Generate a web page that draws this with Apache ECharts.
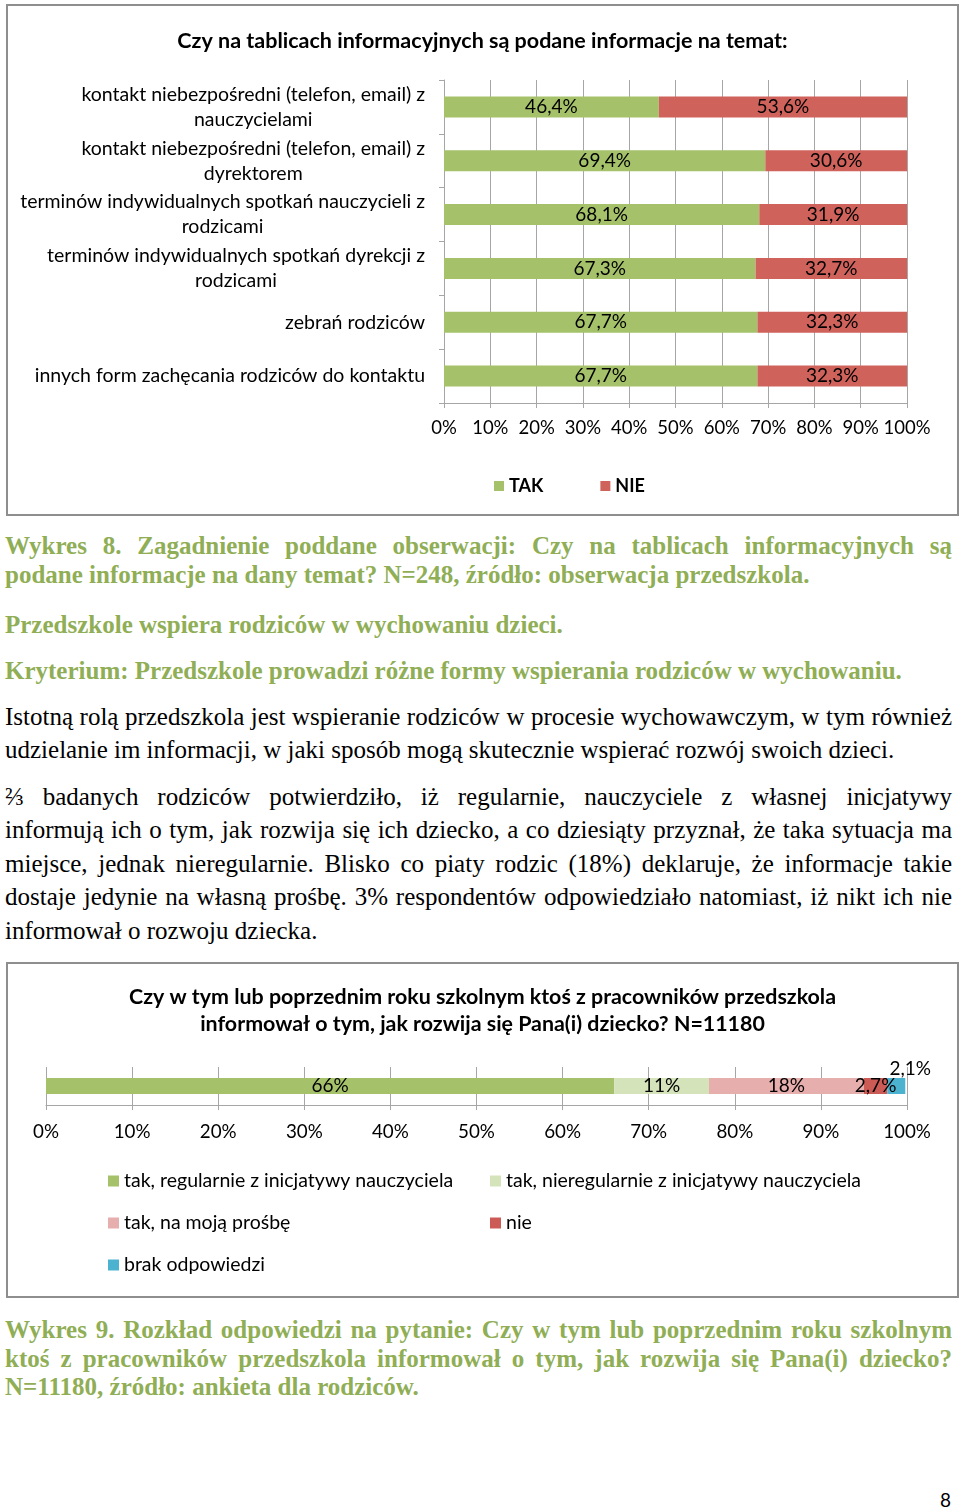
<!DOCTYPE html>
<html>
<head>
<meta charset="utf-8">
<script src="https://cdn.jsdelivr.net/npm/echarts@6/dist/echarts.min.js"></script>
<style>
  html, body { margin:0; padding:0; background:#fff; }
  body { width:960px; height:1510px; position:relative; overflow:hidden; }
  .box { position:absolute; border:2px solid #8e8e8e; background:#fff; }
  .ln { position:absolute; left:5px; width:947px; white-space:nowrap; font-family:"Liberation Serif","Times New Roman",serif; color:#000; }
  .j { text-align:justify; text-align-last:justify; white-space:normal; }
  .cap { font-weight:bold; color:#8fae55; }
  #pg { position:absolute; left:940px; top:1488px; font-family:Lato, sans-serif; font-size:19px; }
</style>
</head>
<body>
<div id="c1" class="box" style="left:6px; top:4px; width:949px; height:508px;"></div>
<div id="c2" class="box" style="left:6px; top:962px; width:949px; height:332px;"></div>
<div id="text"></div>
<div id="pg">8</div>
<script>
// ---------- data: chart 1 ----------
const cats1 = [
  'kontakt niebezpośredni (telefon, email) z\nnauczycielami',
  'kontakt niebezpośredni (telefon, email) z\ndyrektorem',
  'terminów indywidualnych spotkań nauczycieli z\nrodzicami',
  'terminów indywidualnych spotkań dyrekcji z\nrodzicami',
  'zebrań rodziców',
  'innych form zachęcania rodziców do kontaktu'
];
const tak = [46.4, 69.4, 68.1, 67.3, 67.7, 67.7];
const nie = [53.6, 30.6, 31.9, 32.7, 32.3, 32.3];
const series1Names = ['TAK', 'NIE'];
const title1 = 'Czy na tablicach informacyjnych są podane informacje na temat:';

// ---------- data: chart 2 ----------
const cats2 = ['odpowiedzi'];
const names2 = [
  'tak, regularnie z inicjatywy nauczyciela',
  'tak, nieregularnie z inicjatywy nauczyciela',
  'tak, na moją prośbę',
  'nie',
  'brak odpowiedzi'
];
const vals2 = [66, 11, 18, 2.7, 2.1];
const title2 = 'Czy w tym lub poprzednim roku szkolnym ktoś z pracowników przedszkola\ninformował o tym, jak rozwija się Pana(i) dziecko? N=11180';

// ---------- text ----------
const textLines = [
  { y:546, cls:'cap', fs:25, j:true, t:'Wykres 8. Zagadnienie poddane obserwacji: Czy na tablicach informacyjnych są' },
  { y:575, cls:'cap', fs:25, j:false, t:'podane informacje na dany temat? N=248, źródło: obserwacja przedszkola.' },
  { y:625, cls:'cap', fs:25, j:false, t:'Przedszkole wspiera rodziców w wychowaniu dzieci.' },
  { y:671, cls:'cap', fs:25, j:false, t:'Kryterium: Przedszkole prowadzi różne formy wspierania rodziców w wychowaniu.' },
  { y:717, cls:'', fs:25, j:true, t:'Istotną rolą przedszkola jest wspieranie rodziców w procesie wychowawczym, w tym również' },
  { y:750, cls:'', fs:25, j:false, t:'udzielanie im informacji, w jaki sposób mogą skutecznie wspierać rozwój swoich dzieci.' },
  { y:797, cls:'', fs:25, j:true, t:'⅔ badanych rodziców potwierdziło, iż regularnie, nauczyciele z własnej inicjatywy' },
  { y:830, cls:'', fs:25, j:true, t:'informują ich o tym, jak rozwija się ich dziecko, a co dziesiąty przyznał, że taka sytuacja ma' },
  { y:864, cls:'', fs:25, j:true, t:'miejsce, jednak nieregularnie. Blisko co piaty rodzic (18%) deklaruje, że informacje takie' },
  { y:897, cls:'', fs:25, j:true, t:'dostaje jedynie na własną prośbę. 3% respondentów odpowiedziało natomiast, iż nikt ich nie' },
  { y:931, cls:'', fs:25, j:false, t:'informował o rozwoju dziecka.' },
  { y:1330, cls:'cap', fs:25, j:true, t:'Wykres 9. Rozkład odpowiedzi na pytanie: Czy w tym lub poprzednim roku szkolnym' },
  { y:1359, cls:'cap', fs:25, j:true, t:'ktoś z pracowników przedszkola informował o tym, jak rozwija się Pana(i) dziecko?' },
  { y:1387, cls:'cap', fs:25, j:false, t:'N=11180, źródło: ankieta dla rodziców.' }
];
const tc = document.getElementById('text');
textLines.forEach(l => {
  const d = document.createElement('div');
  d.className = 'ln ' + l.cls + (l.j ? ' j' : '');
  d.style.top = (l.y - 15) + 'px';
  d.style.height = '30px';
  d.style.lineHeight = '30px';
  d.style.fontSize = l.fs + 'px';
  d.textContent = l.t;
  tc.appendChild(d);
});

const FONT = 'Lato, "Open Sans", sans-serif';
const pct = v => (Math.round(v * 10) / 10).toString().replace('.', ',') + '%';
const gridColor = '#a6a6a6';

// ---------- chart 1 ----------
const colors1 = ['#a5c26b', '#d0625c'];
const ch1 = echarts.init(document.getElementById('c1'), null, { renderer: 'canvas' });
ch1.setOption({
  animation: false,
  textStyle: { fontFamily: FONT },
  title: { text: title1, left: 'center', top: 19, textStyle: { fontFamily: FONT, fontSize: 21.5, fontWeight: 'bold', color: '#000' } },
  legend: {
    data: series1Names, left: 486, top: 470, padding: 0, itemWidth: 10, itemHeight: 10, itemGap: 57, icon: 'rect',
    textStyle: { fontFamily: FONT, fontSize: 18, fontWeight: 'bold', color: '#000', lineHeight: 20 }
  },
  grid: { left: 436, right: 50, top: 74, bottom: 111 },
  xAxis: {
    type: 'value', min: 0, max: 100, interval: 10,
    axisLabel: { formatter: '{value}%', fontFamily: FONT, fontSize: 18.5, color: '#000', margin: 16 },
    axisLine: { show: true, lineStyle: { color: gridColor } },
    axisTick: { show: true, length: 5, lineStyle: { color: gridColor } },
    splitLine: { show: true, lineStyle: { color: gridColor } }
  },
  yAxis: {
    type: 'category', inverse: true, data: cats1,
    axisLine: { show: true, lineStyle: { color: gridColor } },
    axisTick: { show: true, length: 5, lineStyle: { color: gridColor } },
    axisLabel: {
      margin: 19, color: '#000',
      formatter: v => v.split('\n').map(s => '{c|' + s + '}').join('\n'),
      rich: { c: { align: 'center', fontFamily: FONT, fontSize: 19.5, lineHeight: 25, color: '#000' } }
    }
  },
  series: [tak, nie].map((d, i) => ({
    name: series1Names[i], type: 'bar', stack: 'all', data: d, barWidth: 21,
    itemStyle: { color: colors1[i] },
    label: { show: true, position: 'inside', formatter: p => pct(p.value), fontFamily: FONT, fontSize: 19, color: '#000' }
  }))
});

// ---------- chart 2 ----------
const colors2 = ['#a5c26b', '#d5e3bb', '#e6aeac', '#cd5b55', '#4bb2d0'];
const ch2 = echarts.init(document.getElementById('c2'), null, { renderer: 'canvas' });
ch2.setOption({
  animation: false,
  textStyle: { fontFamily: FONT },
  title: { text: title2, left: 'center', top: 15, textStyle: { fontFamily: FONT, fontSize: 21.4, fontWeight: 'bold', color: '#000', lineHeight: 27 } },
  legend: [
    { data: [names2[0], names2[2], names2[4]], orient: 'vertical', left: 100, top: 206, padding: 0, itemWidth: 11, itemHeight: 11, itemGap: 20, icon: 'rect',
      textStyle: { fontFamily: FONT, fontSize: 19.5, color: '#000', lineHeight: 22 } },
    { data: [names2[1], names2[3]], orient: 'vertical', left: 482, top: 206, padding: 0, itemWidth: 11, itemHeight: 11, itemGap: 20, icon: 'rect',
      textStyle: { fontFamily: FONT, fontSize: 19.5, color: '#000', lineHeight: 22 } }
  ],
  grid: { left: 38, right: 50, top: 103, bottom: 191 },
  xAxis: {
    type: 'value', min: 0, max: 100, interval: 10,
    axisLabel: { formatter: '{value}%', fontFamily: FONT, fontSize: 18.8, color: '#000', margin: 17 },
    axisLine: { show: true, lineStyle: { color: gridColor } },
    axisTick: { show: true, length: 5, lineStyle: { color: gridColor } },
    splitLine: { show: true, lineStyle: { color: gridColor } }
  },
  yAxis: { type: 'category', data: cats2, show: false },
  series: vals2.map((v, i) => ({
    name: names2[i], type: 'bar', stack: 'all', data: [v], barWidth: 16,
    itemStyle: { color: colors2[i] },
    label: i === vals2.length - 1
      ? { show: true, position: 'top', offset: [14, 5], formatter: p => pct(p.value), fontFamily: FONT, fontSize: 19, color: '#000' }
      : { show: true, position: 'inside', formatter: p => pct(p.value), fontFamily: FONT, fontSize: 19, color: '#000' }
  }))
});
</script>
</body>
</html>
